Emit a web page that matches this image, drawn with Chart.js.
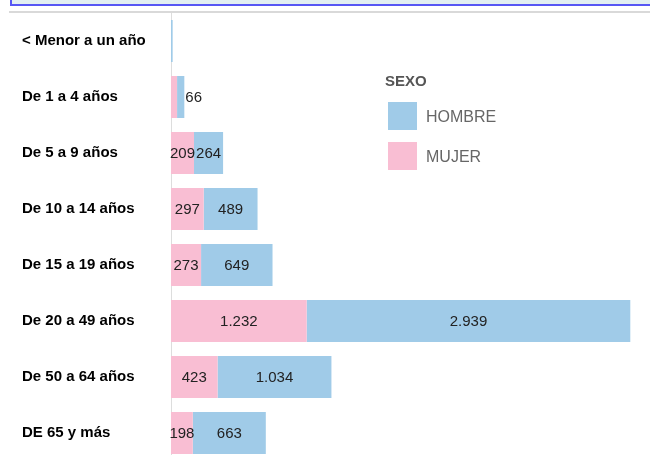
<!DOCTYPE html>
<html>
<head>
<meta charset="utf-8">
<script src="https://cdn.jsdelivr.net/npm/chart.js@4.4.0/dist/chart.umd.min.js"></script>
<style>
  html, body { margin: 0; padding: 0; width: 650px; height: 455px; overflow: hidden; background: #fff; font-family: "Liberation Sans", Arial, sans-serif; }
  #topbar { position: absolute; left: 10px; top: 0; width: 640px; height: 4px; background: #e2eff1; border-left: 2px solid #5757f4; border-bottom: 2px solid #5757f4; }
  #topline { position: absolute; left: 9px; top: 11px; width: 641px; height: 2px; background: #d9d9d9; z-index: 1; }
  #wrap { position: absolute; left: 0; top: -6px; width: 650px; height: 486px; }
  #legend { position: absolute; left: 385px; top: 72px; color: #666; }
  #legend .title { font-weight: bold; font-size: 15px; color: #555; height: 18px; line-height: 18px; }
  #legend .item { position: relative; height: 40px; }
  #legend .box { position: absolute; left: 3px; top: 12px; width: 29px; height: 28px; }
  #legend .txt { position: absolute; left: 41px; top: 17px; font-size: 16px; line-height: 20px; }
</style>
</head>
<body>
<div id="wrap"><canvas id="myChart"></canvas></div>
<div id="topbar"></div>
<div id="topline"></div>
<div id="legend"></div>
<script>
let ageGroups = [
  "< Menor a un año",
  "De 1 a 4 años",
  "De 5 a 9 años",
  "De 10 a 14 años",
  "De 15 a 19 años",
  "De 20 a 49 años",
  "De 50 a 64 años",
  "DE 65 y más",
];
let mujerValues = [0, 55, 209, 297, 273, 1232, 423, 198];
let hombreValues = [15, 66, 264, 489, 649, 2939, 1034, 663];

let mujerColor = "#f9bed3";
let hombreColor = "#a0cbe8";

const formatNum = (v) => String(v).replace(/\B(?=(\d{3})+(?!\d))/g, ".");

// value labels inside the bars (last series goes outside if it doesn't fit)
const barLabels = {
  id: "barLabels",
  afterDatasetsDraw(chart) {
    const ctx = chart.ctx;
    ctx.save();
    ctx.font = "15px 'Liberation Sans', Arial, sans-serif";
    ctx.fillStyle = "#222";
    ctx.textBaseline = "middle";
    const last = chart.data.datasets.length - 1;
    chart.data.datasets.forEach((ds, i) => {
      const meta = chart.getDatasetMeta(i);
      meta.data.forEach((bar, j) => {
        const v = ds.data[j];
        const w = bar.x - bar.base;
        if (!v || w < 4) return;
        const txt = formatNum(v);
        const tw = ctx.measureText(txt).width;
        if (tw <= w + 4) {
          ctx.textAlign = "center";
          ctx.fillText(txt, (bar.x + bar.base) / 2, bar.y + 1);
        } else if (i === last) {
          ctx.textAlign = "left";
          ctx.fillText(txt, bar.x + 1, bar.y + 1);
        }
      });
    });
    ctx.restore();
  },
};

const chart = new Chart("myChart", {
  type: "bar",
  data: {
    labels: ageGroups,
    datasets: [
      { label: "MUJER", data: mujerValues, backgroundColor: mujerColor },
      { label: "HOMBRE", data: hombreValues, backgroundColor: hombreColor },
    ],
  },
  options: {
    indexAxis: "y",
    responsive: true,
    maintainAspectRatio: false,
    animation: false,
    categoryPercentage: 1,
    barPercentage: 0.75,
    layout: { padding: { left: 22, top: 0, bottom: 0, right: 0 }, autoPadding: false },
    plugins: {
      legend: { display: false },
      tooltip: { enabled: false },
    },
    scales: {
      x: {
        stacked: true,
        display: false,
        min: 0,
        max: 4350,
      },
      y: {
        stacked: true,
        grid: { display: false, drawTicks: false },
        border: { display: true, color: "#dddddd", width: 1 },
        ticks: {
          crossAlign: "far",
          padding: 10,
          color: "#000",
          font: { family: "'Liberation Sans', Arial, sans-serif", size: 15, weight: "bold" },
        },
        afterFit: (scale) => {
          scale.width = 149;
        },
      },
    },
  },
  plugins: [barLabels],
});

// legend: HOMBRE first, then MUJER
let legendHtml = `<div class="title">SEXO</div>`;
chart.data.datasets.slice().reverse().forEach((ds) => {
  legendHtml += `<div class="item"><div class="box" style="background:${ds.backgroundColor}"></div><div class="txt">${ds.label}</div></div>`;
});
document.getElementById("legend").innerHTML = legendHtml;
</script>
</body>
</html>
